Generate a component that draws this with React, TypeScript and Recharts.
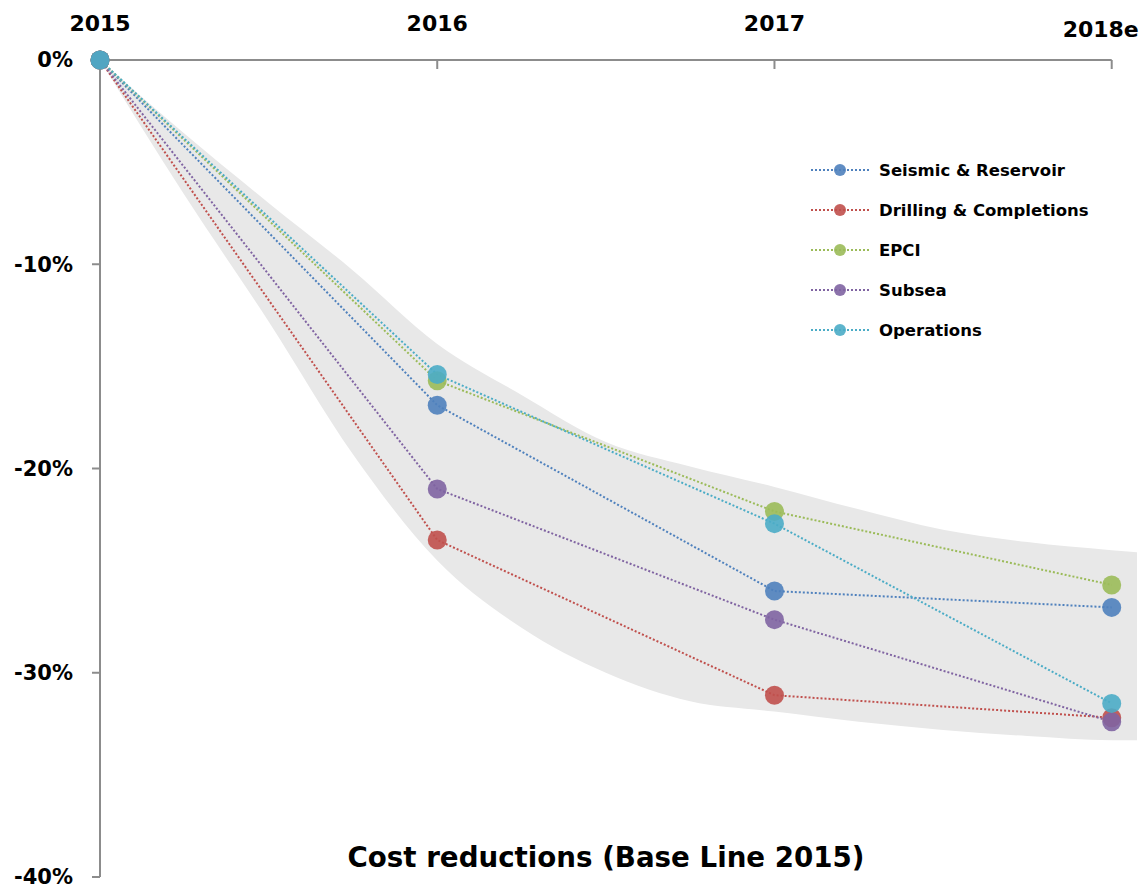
import React from 'react';
import { ComposedChart, Line, Area, XAxis, YAxis, Legend, ReferenceLine } from 'recharts';

const FONT = '"DejaVu Sans", Verdana, sans-serif';
const AXIS_COLOR = '#8c8c8c';
const BAND_COLOR = '#e8e8e8';

// x positions are year indexes: 0 = 2015 ... 3 = 2018e
const years = ['2015', '2016', '2017', '2018e'];
const yTicks = [0, -10, -20, -30, -40];

// cost change vs 2015, in %
const seismicReservoir = [0, -16.9, -26.0, -26.8];
const drillingCompletions = [0, -23.5, -31.1, -32.2];
const epci = [0, -15.7, -22.1, -25.7];
const subsea = [0, -21.0, -27.4, -32.4];
const operations = [0, -15.4, -22.7, -31.5];

// grey envelope behind the segments (runs a little past 2018e)
const bandPos = [0, 0.25, 0.5, 0.75, 1, 1.25, 1.5, 1.75, 2, 2.25, 2.5, 2.75, 3, 3.075];
const bandUpper = [0, -3.6, -7.0, -10.3, -13.9, -16.4, -18.7, -19.9, -20.9, -22.0, -23.0, -23.6, -24.0, -24.1];
const bandLower = [0, -6.6, -12.8, -19.3, -24.5, -27.8, -30.0, -31.4, -31.9, -32.4, -32.8, -33.1, -33.3, -33.3];

const series = [
  { key: 'seismic', name: 'Seismic & Reservoir', color: '#4F81BD', values: seismicReservoir },
  { key: 'drilling', name: 'Drilling & Completions', color: '#C0504D', values: drillingCompletions },
  { key: 'epci', name: 'EPCI', color: '#9BBB59', values: epci },
  { key: 'subsea', name: 'Subsea', color: '#8064A2', values: subsea },
  { key: 'operations', name: 'Operations', color: '#4BACC6', values: operations },
];

const data = bandPos.map((pos, i) => {
  const row: Record<string, any> = { pos, band: [bandLower[i], bandUpper[i]] };
  if (Number.isInteger(pos)) {
    series.forEach((s) => {
      row[s.key] = s.values[pos];
    });
  }
  return row;
});

const YearTick = (props: any) => {
  const { x, y, payload } = props;
  const last = payload.value === years.length - 1;
  return (
    <text
      x={x}
      y={y}
      dx={last ? -11 : 0}
      dy={last ? 6 : 0}
      textAnchor="middle"
      fill="#000"
      fontSize={22}
      fontWeight="bold"
      fontFamily={FONT}
    >
      {years[payload.value]}
    </text>
  );
};

// keep legend rows in series order
const renderLegend = (props: any) => {
  const order = series.map((s) => s.name);
  const items = (props.payload || [])
    .filter((p: any) => p.type !== 'none' && order.includes(p.value))
    .sort((a: any, b: any) => order.indexOf(a.value) - order.indexOf(b.value));
  return (
    <div>
      {items.map((item: any) => (
        <div key={item.value} style={{ display: 'flex', alignItems: 'center', height: 40 }}>
          <svg width={58} height={20}>
            <line x1={0} x2={58} y1={10} y2={10} stroke={item.color} strokeWidth={2} strokeDasharray="2 2" />
            <circle cx={29} cy={10} r={6} fill={item.color} fillOpacity={0.9} />
          </svg>
          <span
            style={{
              marginLeft: 10,
              fontFamily: FONT,
              fontWeight: 'bold',
              fontSize: 16.5,
              color: '#000',
            }}
          >
            {item.value}
          </span>
        </div>
      ))}
    </div>
  );
};

export default function App() {
  return (
    <div style={{ position: 'absolute', left: 0, top: 0, width: 1142, height: 886, background: '#fff', fontFamily: FONT }}>
      <ComposedChart width={1142} height={886} data={data} margin={{ top: 0, right: 5, bottom: 9, left: 0 }}>
        <XAxis
          type="number"
          dataKey="pos"
          orientation="top"
          domain={[0, bandPos[bandPos.length - 1]]}
          ticks={[0, 1, 2, 3]}
          interval={0}
          height={60}
          axisLine={false}
          tickLine={{ stroke: AXIS_COLOR, strokeWidth: 2 }}
          tickSize={-9}
          tickMargin={38}
          tick={<YearTick />}
        />
        <YAxis
          type="number"
          domain={[-40, 0]}
          ticks={yTicks}
          interval={0}
          width={100}
          tickFormatter={(v: number) => `${v}%`}
          axisLine={{ stroke: AXIS_COLOR, strokeWidth: 2 }}
          tickLine={{ stroke: AXIS_COLOR, strokeWidth: 2 }}
          tickSize={8}
          tickMargin={19}
          tick={{ fill: '#000', fontSize: 21, fontWeight: 'bold', fontFamily: FONT }}
        />
        <Legend
          layout="vertical"
          align="center"
          verticalAlign="middle"
          content={renderLegend}
          wrapperStyle={{ position: 'absolute', left: 811, top: 150, width: 320, height: 200 }}
        />
        <Area
          type="monotone"
          dataKey="band"
          fill={BAND_COLOR}
          fillOpacity={1}
          stroke="none"
          legendType="none"
          activeDot={false}
          isAnimationActive={false}
        />
        {/* top axis line stops at the last year */}
        <ReferenceLine
          segment={[
            { x: 0, y: 0 },
            { x: years.length - 1, y: 0 },
          ]}
          stroke={AXIS_COLOR}
          strokeWidth={2}
        />
        {series.map((s) => (
          <Line
            key={s.key}
            type="linear"
            dataKey={s.key}
            name={s.name}
            stroke={s.color}
            strokeWidth={2}
            strokeDasharray="2 2"
            connectNulls
            dot={{ r: 9.5, fill: s.color, fillOpacity: 0.9, stroke: 'none', clipDot: false }}
            activeDot={false}
            isAnimationActive={false}
          />
        ))}
      </ComposedChart>
      <div
        style={{
          position: 'absolute',
          left: 0,
          width: 1212,
          top: 844,
          textAlign: 'center',
          fontFamily: FONT,
          fontWeight: 'bold',
          fontSize: 27.7,
          lineHeight: '28px',
          color: '#000',
        }}
      >
        Cost reductions (Base Line 2015)
      </div>
    </div>
  );
}
